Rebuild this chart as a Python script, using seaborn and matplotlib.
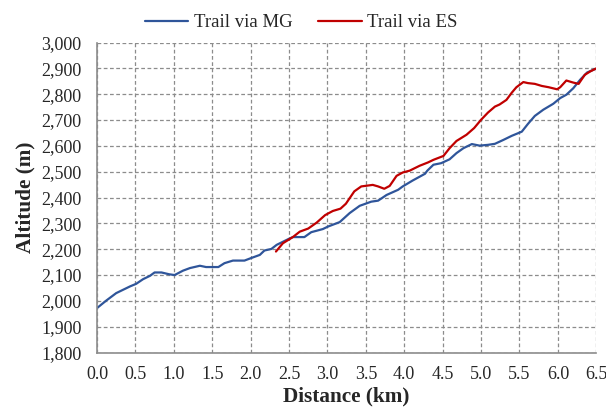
import pandas as pd
import matplotlib
matplotlib.use("Agg")
import matplotlib.pyplot as plt
import seaborn as sns
from matplotlib.ticker import FuncFormatter, MultipleLocator

# Trail via MG: distance (km) / altitude (m)
mg_dist = [0.00, 0.12, 0.25, 0.43, 0.51, 0.60, 0.69, 0.75, 0.84, 0.94, 1.01,
           1.12, 1.21, 1.34, 1.42, 1.58, 1.66, 1.77, 1.92, 2.00, 2.12, 2.18,
           2.27, 2.34, 2.49, 2.55, 2.70, 2.79, 2.94, 3.01, 3.16, 3.29, 3.42,
           3.57, 3.66, 3.77, 3.92, 3.98, 4.11, 4.27, 4.30, 4.38, 4.48, 4.59,
           4.68, 4.77, 4.88, 4.98, 5.09, 5.18, 5.29, 5.40, 5.53, 5.61, 5.70,
           5.81, 5.94, 6.03, 6.11, 6.20, 6.29, 6.38, 6.48, 6.50]
mg_alt = [1972, 2001, 2030, 2056, 2066, 2084, 2097, 2110, 2110, 2103, 2100,
          2117, 2127, 2136, 2131, 2131, 2146, 2156, 2156, 2165, 2178, 2195,
          2201, 2217, 2239, 2247, 2247, 2266, 2278, 2288, 2305, 2340, 2368,
          2384, 2388, 2410, 2430, 2443, 2466, 2492, 2504, 2527, 2533, 2548,
          2572, 2591, 2607, 2601, 2604, 2608, 2623, 2639, 2655, 2685, 2716,
          2740, 2763, 2785, 2798, 2823, 2856, 2884, 2897, 2898]

# Trail via ES
es_dist = [2.33, 2.42, 2.55, 2.64, 2.75, 2.86, 2.97, 3.07, 3.17, 3.24, 3.35,
           3.44, 3.59, 3.66, 3.74, 3.81, 3.90, 3.98, 4.07, 4.20, 4.31, 4.38,
           4.51, 4.59, 4.68, 4.81, 4.91, 5.00, 5.09, 5.18, 5.24, 5.33, 5.40,
           5.46, 5.55, 5.61, 5.70, 5.79, 5.88, 5.99, 6.03, 6.11, 6.20, 6.27,
           6.35, 6.42, 6.48, 6.50]
es_alt = [2191, 2223, 2247, 2268, 2280, 2303, 2332, 2348, 2357, 2376, 2424,
          2443, 2449, 2443, 2434, 2445, 2484, 2497, 2504, 2523, 2536, 2546,
          2561, 2591, 2619, 2643, 2669, 2701, 2729, 2752, 2760, 2778, 2806,
          2827, 2847, 2843, 2840, 2832, 2827, 2819, 2827, 2853, 2845, 2840,
          2875, 2888, 2897, 2900]

df = pd.concat([
    pd.DataFrame({"Distance": mg_dist, "Altitude": mg_alt, "Trail": "Trail via MG"}),
    pd.DataFrame({"Distance": es_dist, "Altitude": es_alt, "Trail": "Trail via ES"}),
])

sns.set_style("white")
plt.rcParams["font.family"] = ["Liberation Serif", "DejaVu Serif"]

fig = plt.figure(figsize=(6.06, 4.09), dpi=100)
ax = fig.add_axes([0.160, 0.138, 0.824, 0.758])

sns.lineplot(data=df, x="Distance", y="Altitude", hue="Trail",
             palette={"Trail via MG": "#2F559A", "Trail via ES": "#C00000"},
             linewidth=1.6, sort=False, estimator=None, ax=ax)

ax.set_xlim(0, 6.5)
ax.set_ylim(1800, 3000)
ax.xaxis.set_major_locator(MultipleLocator(0.5))
ax.yaxis.set_major_locator(MultipleLocator(100))
ax.xaxis.set_major_formatter(FuncFormatter(lambda v, p: f"{v:.1f}"))
ax.yaxis.set_major_formatter(FuncFormatter(lambda v, p: f"{int(v):,}"))
ax.grid(True, linestyle=(0, (3, 2)), color="#8c8c8c", linewidth=0.9)

for s in ["top", "right"]:
    ax.spines[s].set_visible(False)
for s in ["left", "bottom"]:
    ax.spines[s].set_color("#8c8c8c")
    ax.spines[s].set_linewidth(1.2)
ax.tick_params(axis="both", direction="out", length=4, width=1,
               color="#8c8c8c", labelsize=13)
ax.tick_params(axis="y", pad=7)
ax.tick_params(axis="x", pad=6)

ax.set_xlabel("Distance (km)", fontsize=15.3, fontweight="bold", labelpad=2)
ax.set_ylabel("Altitude (m)", fontsize=15.3, fontweight="bold", labelpad=4)

ax.legend(loc="lower center", bbox_to_anchor=(0.409, 1.0), ncol=2, frameon=False,
          fontsize=13.5, handlelength=2.3, columnspacing=1.4, handletextpad=0.3,
          borderaxespad=0.2)

fig.savefig("out.png", dpi=100)
